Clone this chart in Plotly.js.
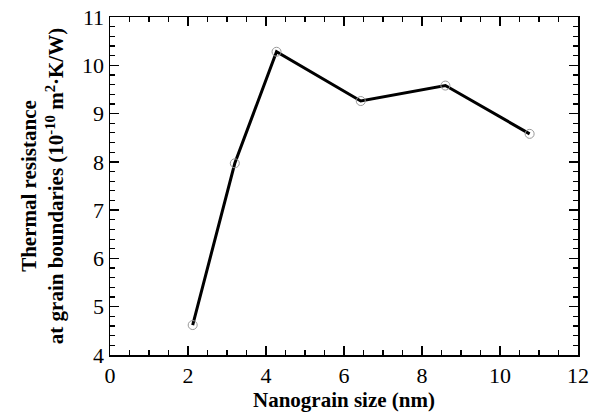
<!DOCTYPE html>
<html>
<head>
<meta charset="utf-8">
<script src="https://cdn.plot.ly/plotly-3.0.1.min.js"></script>
<style>html,body{margin:0;padding:0;background:#fff;}#chart{width:599px;height:418px;}</style>
</head>
<body>
<div id="chart"></div>
<script>
// Grain size (nm) and thermal resistance at grain boundaries (1e-10 m^2 K/W)
const grainSize = [2.12, 3.2, 4.27, 6.43, 8.6, 10.76];
const resistance = [4.62, 7.97, 10.28, 9.26, 9.58, 8.58];

const serif = "Liberation Serif, Times New Roman, serif";

const trace = {
  x: grainSize,
  y: resistance,
  type: "scatter",
  mode: "lines+markers",
  line: {color: "#000", width: 3},
  marker: {symbol: "circle-open", size: 9, color: "#999", line: {color: "#999", width: 1}},
  showlegend: false
};

const axisCommon = {
  showline: true, linecolor: "#000", linewidth: 1.5, mirror: "ticks",
  ticks: "inside", ticklen: 9, tickwidth: 1.5, tickcolor: "#000",
  showgrid: false, zeroline: false,
  tickfont: {family: serif, size: 22, color: "#000"}
};

const layout = {
  width: 599, height: 418,
  margin: {l: 110, r: 21, t: 17, b: 63},
  paper_bgcolor: "#fff", plot_bgcolor: "#fff",
  xaxis: Object.assign({}, axisCommon, {
    range: [0, 12], dtick: 2, tick0: 0,
    minor: {dtick: 0.5, ticks: "inside", ticklen: 5, tickwidth: 1.2, tickcolor: "#000"},
    title: {text: "<b>Nanograin size (nm)</b>", font: {family: serif, size: 21, color: "#000"}, standoff: 2}
  }),
  yaxis: Object.assign({}, axisCommon, {
    range: [4, 11], dtick: 1, tick0: 4,
    minor: {dtick: 0.2, ticks: "inside", ticklen: 5, tickwidth: 1.2, tickcolor: "#000"},
    title: {text: "<b>Thermal resistance<br>at grain boundaries (10<sup>-10</sup> m<sup>2</sup>·K/W)</b>", font: {family: serif, size: 21, color: "#000"}, standoff: 12}
  })
};

Plotly.newPlot("chart", [trace], layout, {displayModeBar: false, staticPlot: true});
</script>
</body>
</html>
